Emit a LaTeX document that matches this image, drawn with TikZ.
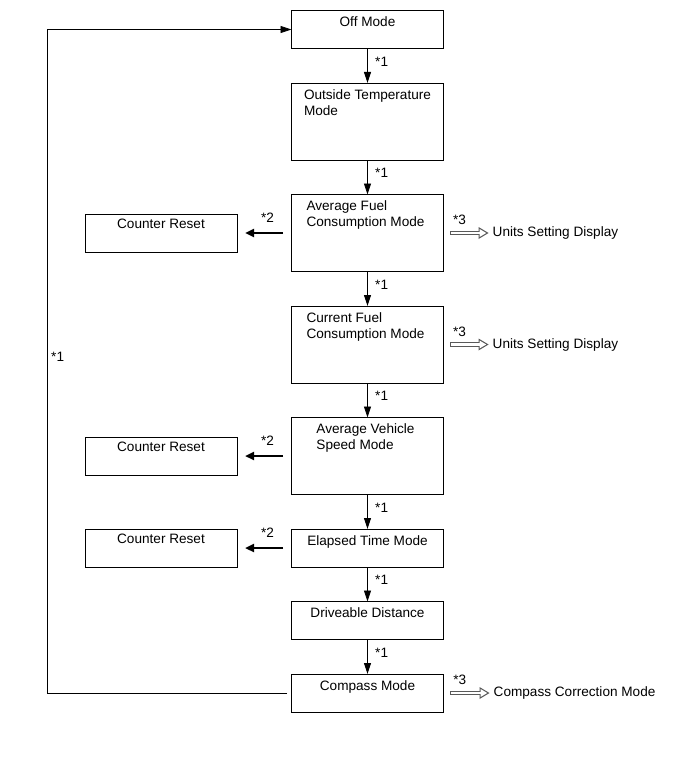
\documentclass[tikz,border=0pt]{standalone}
\usepackage{fontspec}
\setmainfont{Liberation Sans}
\usetikzlibrary{arrows.meta, positioning}
\newcommand{\diagfont}{\fontsize{13.6pt}{16pt}\selectfont}

\begin{document}
\begin{tikzpicture}[x=1pt, y=-1pt, node distance=34.5pt, font=\diagfont]
    \tikzstyle{modebox} = [rectangle, draw, line width=0.8pt, minimum width=152pt, minimum height=38pt, inner sep=0pt, outer sep=0pt]
    \tikzstyle{tallbox} = [minimum height=77pt]
    \tikzstyle{boxtext} = [anchor=north, inner sep=0pt, yshift=-6pt, align=left]
    \tikzstyle{line} = [draw, line width=0.8pt, -{Triangle[length=11pt, width=7pt]}]
    \tikzstyle{resetline} = [draw, line width=2.6pt, -{Triangle[length=9pt, width=8pt]}, shorten <=8.5pt, shorten >=8pt]
    \tikzstyle{hollow} = [draw=black!65, line width=4.6pt, -{Triangle[length=10pt, width=12pt, line width=0pt 0 0]}, shorten <=6.5pt, shorten >=2pt,
        postaction={draw=white, line width=2.2pt, -{Triangle[length=6.5pt, width=7.8pt, line width=0pt 0 0]}, shorten <=7.7pt, shorten >=4.3pt}]
    \tikzstyle{sidetext} = [inner sep=2pt]

    \useasboundingbox (0,0) rectangle (691,757);

    % main column
    \node [modebox, label={[boxtext]north:Off Mode}] (off) at (367.5,29.5) {};
    \node [modebox, tallbox, below=of off, label={[boxtext]north:Outside Temperature\\Mode}] (outside) {};
    \node [modebox, tallbox, below=of outside, label={[boxtext, xshift=-2pt]north:Average Fuel\\Consumption Mode}] (avgfuel) {};
    \node [modebox, tallbox, below=of avgfuel, label={[boxtext, xshift=-2pt]north:Current Fuel\\Consumption Mode}] (curfuel) {};
    \node [modebox, tallbox, below=of curfuel, label={[boxtext, xshift=-2pt]north:Average Vehicle\\Speed Mode}] (avgspeed) {};
    \node [modebox, below=of avgspeed, label={[boxtext]north:Elapsed Time Mode}] (elapsed) {};
    \node [modebox, below=of elapsed, label={[boxtext]north:Driveable Distance}] (drive) {};
    \node [modebox, below=of drive, label={[boxtext]north:Compass Mode}] (compass) {};

    % side boxes
    \node [modebox, left=54.5pt of avgfuel, label={[boxtext, yshift=1pt]north:Counter Reset}] (reset1) {};
    \node [modebox, left=54.5pt of avgspeed, label={[boxtext, yshift=1pt]north:Counter Reset}] (reset2) {};
    \node [modebox, left=54.5pt of elapsed, label={[boxtext, yshift=1pt]north:Counter Reset}] (reset3) {};
    \node [sidetext, right=47pt of avgfuel] (units1) {Units Setting Display};
    \node [sidetext, right=47pt of curfuel] (units2) {Units Setting Display};
    \node [sidetext, right=48pt of compass] (compcorr) {Compass Correction Mode};

    \path [line] (off) -- node[pos=0.38, right=4pt] {*1} (outside);
    \path [line] (outside) -- node[pos=0.38, right=4pt] {*1} (avgfuel);
    \path [line] (avgfuel) -- node[pos=0.38, right=4pt] {*1} (curfuel);
    \path [line] (curfuel) -- node[pos=0.38, right=4pt] {*1} (avgspeed);
    \path [line] (avgspeed) -- node[pos=0.38, right=4pt] {*1} (elapsed);
    \path [line] (elapsed) -- node[pos=0.38, right=4pt] {*1} (drive);
    \path [line] (drive) -- node[pos=0.38, right=4pt] {*1} (compass);

    \path [resetline] (avgfuel) -- node[pos=0.44, above=6pt] {*2} (reset1);
    \path [resetline] (avgspeed) -- node[pos=0.44, above=6pt] {*2} (reset2);
    \path [resetline] (elapsed) -- node[pos=0.44, above=6pt] {*2} (reset3);

    \path [hollow] (avgfuel) -- node[pos=0.34, above=2.5pt] {*3} (units1);
    \path [hollow] (curfuel) -- node[pos=0.34, above=2.5pt] {*3} (units2);
    \path [hollow] (compass) -- node[pos=0.34, above=2.5pt] {*3} (compcorr);

    % loop back to the top
    \path [line, shorten <=4.5pt] (compass.west) -- ++(-244.5,0) |- node[pos=0.253, right=0.5pt] {*1} (off);
\end{tikzpicture}
\end{document}
